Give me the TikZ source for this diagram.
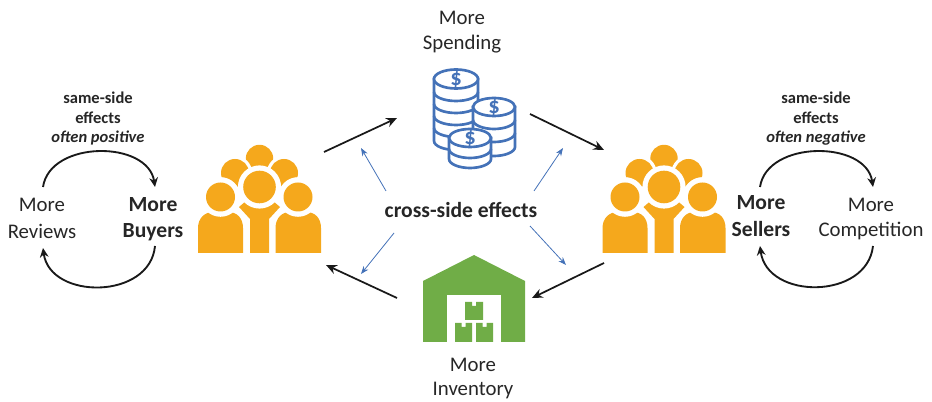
\documentclass[tikz,border=0pt]{standalone}
\usepackage{fontspec}
\setmainfont{Carlito}
\usetikzlibrary{arrows.meta}
\definecolor{orangeicon}{HTML}{F5A81C}
\definecolor{greenicon}{HTML}{70AD47}
\definecolor{blueicon}{HTML}{4472B8}
\definecolor{inktext}{HTML}{262626}
\tikzset{
  lab/.style={font=\fontsize{15.6}{15.6}\selectfont,text=inktext,inner sep=0pt,anchor=center},
  labb/.style={lab,font=\fontsize{16.2}{16.2}\selectfont\bfseries},
  small/.style={lab,font=\fontsize{12.4}{12.4}\selectfont\bfseries},
  smalli/.style={lab,font=\fontsize{12.4}{12.4}\selectfont\bfseries\itshape},
  mainarrow/.style={draw=black!90,line width=1.3pt,-{Stealth[length=8pt,width=7pt]}},
  thinarrow/.style={draw=blueicon,line width=0.6pt,-{Stealth[length=6pt,width=4.5pt]}},
  looparrow/.style={draw=black!90,line width=1.4pt,-{Stealth[length=7pt,width=6.5pt]}},
  dollar/.style={text=blueicon,inner sep=0pt,font=\fontsize{17}{17}\selectfont\bfseries},
}
\newcommand{\peopleicon}[1]{%
\begin{scope}[xshift=#1*0.75pt]
  \fill[orangeicon] (259.5,158.5) circle (13.7);
  \fill[white] (235,173) circle (17.2);
  \fill[white] (284,173) circle (17.2);
  \fill[orangeicon] (235,173) circle (14);
  \fill[orangeicon] (284,173) circle (14);
  % centre body
  \fill[white] (220.5,197) circle (19.5);
  \fill[white] (298,197) circle (19.5);
  \fill[orangeicon] (239,207) -- (246,201) -- (273,201) -- (280,207) -- (269,219) -- (269,253) -- (250,253) -- (250,219) -- cycle;
  % side bodies
  \fill[orangeicon] (198,253) -- (198,228) .. controls (198,218) and (205,212) .. (213,212) -- (228,212) .. controls (237,212) and (243,218) .. (243,228) -- (243,253) -- cycle;
  \fill[orangeicon] (275.5,253) -- (275.5,228) .. controls (275.5,218) and (282,212) .. (290,212) -- (306,212) .. controls (315,212) and (321,218) .. (321,228) -- (321,253) -- cycle;
  \fill[white] (220.5,197) circle (19.8);
  \fill[white] (298,197) circle (19.8);
  \fill[orangeicon] (220.5,197) circle (14.5);
  \fill[orangeicon] (298,197) circle (14.5);
  \fill[white] (259.5,187) circle (21.6);
  \fill[orangeicon] (259.5,187) circle (16.3);
\end{scope}}
\begin{document}
\begin{tikzpicture}[x=0.75pt,y=-0.75pt]
\useasboundingbox (0,0) rectangle (932,402);

% icons
\peopleicon{0}
\peopleicon{404.5}

% coins
\begin{scope}[blueicon,line width=2pt]
  % big stack
  \filldraw[fill=white] (434,79) -- (434,141) .. controls (434,146) and (444,150) .. (456,150) .. controls (468,150) and (478,146) .. (478,141) -- (478,79) -- cycle;
  \foreach \yy in {92,104,116,128} {
    \draw (434,\yy) .. controls (434,\yy+5) and (444,\yy+9) .. (456,\yy+9) .. controls (468,\yy+9) and (478,\yy+5) .. (478,\yy);
  }
  \filldraw[fill=white] (456,79) ellipse [x radius=22,y radius=9.5];
  % right stack
  \filldraw[fill=white] (473,107) -- (473,147) .. controls (473,152) and (483,156) .. (494,156) .. controls (505,156) and (515,152) .. (515,147) -- (515,107) -- cycle;
  \foreach \yy in {120,133} {
    \draw (473,\yy) .. controls (473,\yy+5) and (483,\yy+9) .. (494,\yy+9) .. controls (505,\yy+9) and (515,\yy+5) .. (515,\yy);
  }
  \filldraw[fill=white] (494,107) ellipse [x radius=21,y radius=9];
  % front stack
  \filldraw[fill=white] (449,138) -- (449,159) .. controls (449,164) and (459,168) .. (470,168) .. controls (481,168) and (491,164) .. (491,159) -- (491,138) -- cycle;
  \draw (449,149) .. controls (449,154) and (459,158) .. (470,158) .. controls (481,158) and (491,154) .. (491,149);
  \filldraw[fill=white] (470,138) ellipse [x radius=21,y radius=9];
\end{scope}
\node[dollar] (d1) at (456,79) {\$};
\node[dollar] (d2) at (494,107) {\$};
\node[dollar] (d3) at (470,138) {\$};

% warehouse
\fill[greenicon] (474,255) -- (525,281) -- (525,342) -- (423,342) -- (423,281) -- cycle;
\fill[white] (447,295) rectangle (501,342);
\fill[greenicon] (465,302) -- (472,302) -- (472,306) -- (476,306) -- (476,302) -- (483,302) -- (483,320) -- (465,320) -- cycle;
\fill[greenicon] (455,323) -- (461.5,323) -- (461.5,327) -- (465.5,327) -- (465.5,323) -- (472,323) -- (472,342) -- (455,342) -- cycle;
\fill[greenicon] (476,323) -- (482.5,323) -- (482.5,327) -- (486.5,327) -- (486.5,323) -- (493,323) -- (493,342) -- (476,342) -- cycle;

% labels
\node[lab] (spend1) at (462,18) {More};
\node[lab] (spend2) at (462,44) {Spending};
\node[lab] (inv1) at (473,365) {More};
\node[lab] (inv2) at (473,391) {Inventory};
\node[labb] (cross) at (461,210) {cross-side effects};
\node[lab] (rev1) at (42,205) {More};
\node[lab] (rev2) at (42,231) {Reviews};
\node[labb] (buy1) at (153,205) {More};
\node[labb] (buy2) at (153,232) {Buyers};
\node[labb] (sell1) at (761,203) {More};
\node[labb] (sell2) at (761,229) {Sellers};
\node[lab] (comp1) at (871,205) {More};
\node[lab] (comp2) at (871,231) {Competition};
\node[small] (ss1) at (98,98) {same-side};
\node[small] (ss2) at (98,118) {effects};
\node[smalli] (ss3) at (98,138) {often positive};
\node[small] (ss4) at (816,98) {same-side};
\node[small] (ss5) at (816,118) {effects};
\node[smalli] (ss6) at (816,138) {often negative};

% connector ends
\coordinate (a1) at (324,152); \coordinate (a2) at (397,118);
\coordinate (b1) at (530,114); \coordinate (b2) at (604,150);
\coordinate (c1) at (604,263); \coordinate (c2) at (532,298);
\coordinate (e1) at (397,298); \coordinate (e2) at (326,265);
\draw[mainarrow] (a1) -- (a2);
\draw[mainarrow] (b1) -- (b2);
\draw[mainarrow] (c1) -- (c2);
\draw[mainarrow] (e1) -- (e2);

\coordinate (t1) at (386,191); \coordinate (t2) at (361,148);
\coordinate (t3) at (534,191); \coordinate (t4) at (563,148);
\coordinate (t5) at (394,233); \coordinate (t6) at (361,274);
\coordinate (t7) at (530,226); \coordinate (t8) at (566,265);
\draw[thinarrow] (t1) -- (t2);
\draw[thinarrow] (t3) -- (t4);
\draw[thinarrow] (t5) -- (t6);
\draw[thinarrow] (t7) -- (t8);

% loops
\coordinate (l1) at (43,187); \coordinate (l2) at (155,187);
\coordinate (l3) at (155,246); \coordinate (l4) at (43,248);
\draw[looparrow] (l1) .. controls (50,140) and (148,140) .. (l2);
\draw[looparrow] (l3) .. controls (150,300) and (50,300) .. (l4);
\coordinate (r1) at (760,187); \coordinate (r2) at (873,187);
\coordinate (r3) at (873,246); \coordinate (r4) at (760,246);
\draw[looparrow] (r1) .. controls (767,140) and (866,140) .. (r2);
\draw[looparrow] (r3) .. controls (867,300) and (767,300) .. (r4);
\end{tikzpicture}
\end{document}
